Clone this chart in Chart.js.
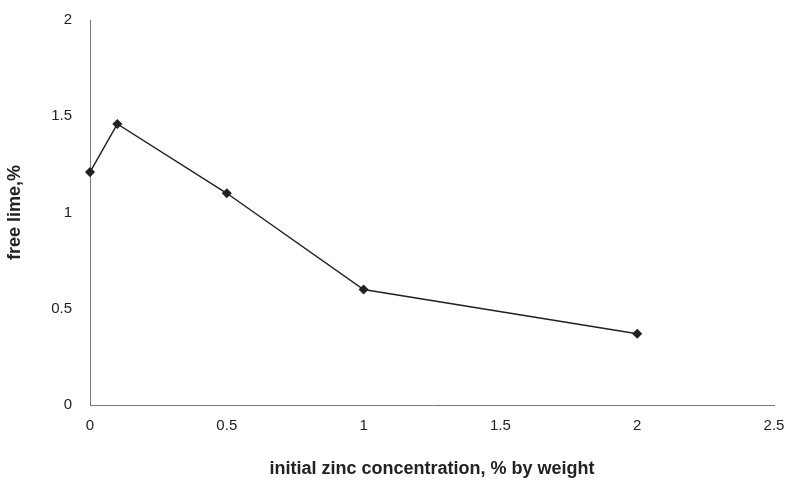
<!DOCTYPE html>
<html><head><meta charset="utf-8">
<script src="https://cdn.jsdelivr.net/npm/chart.js@4"></script>
<style>html,body{margin:0;background:#fff}#c{width:796px;height:484px}</style>
</head><body><div id="c"><canvas id="chart"></canvas></div>
<script>
const zinc = [0, 0.1, 0.5, 1, 2];
const freeLime = [1.21, 1.46, 1.10, 0.60, 0.37];
const xTicks = [0, 0.5, 1, 1.5, 2, 2.5];
const yTicks = [0, 0.5, 1, 1.5, 2];

new Chart(document.getElementById("chart"), {
  type: 'scatter',
  data: { datasets: [{
    data: zinc.map((x, i) => ({x, y: freeLime[i]})),
    showLine: true, borderColor: '#222', borderWidth: 1.5, clip: false,
    pointStyle: 'rectRot', pointRadius: 4, pointBackgroundColor: '#222', pointBorderColor: '#222'
  }]},
  options: {
    responsive: true, maintainAspectRatio: false, animation: false,
    layout: { padding: { top: 20, right: 22 } },
    plugins: { legend: { display: false }, tooltip: { enabled: false } },
    scales: {
      x: {
        type: 'linear', min: 0, max: 2.5,
        afterBuildTicks: s => { s.ticks = xTicks.map(v => ({value: v})); },
        afterFit: s => { s.height = 79; },
        grid: { display: false },
        border: { color: '#777', width: 1 },
        ticks: { color: '#222', font: { family: 'Arial, Liberation Sans', size: 15 }, padding: 4, callback: v => String(v) },
        title: { display: true, text: 'initial zinc concentration, % by weight', color: '#222',
                 font: { family: 'Arial, Liberation Sans', size: 18, weight: 'bold' }, padding: { top: 10 } }
      },
      y: {
        min: 0, max: 2,
        afterBuildTicks: s => { s.ticks = yTicks.map(v => ({value: v})); },
        afterFit: s => { s.width = 90; },
        grid: { display: false },
        border: { color: '#777', width: 1 },
        ticks: { color: '#222', font: { family: 'Arial, Liberation Sans', size: 15 }, padding: 10, callback: v => String(v) },
        title: { display: true, text: 'free lime,%', color: '#222',
                 font: { family: 'Arial, Liberation Sans', size: 18, weight: 'bold' }, padding: { bottom: 12 } }
      }
    }
  }
});
</script></body></html>
